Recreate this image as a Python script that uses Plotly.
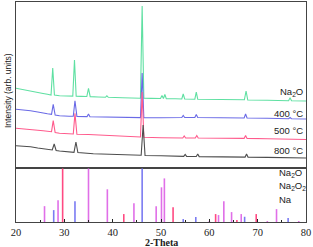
import plotly.graph_objects as go
from plotly.subplots import make_subplots

# ---- data (2-theta, intensity in arbitrary units) ----
na2o_pattern = [(20, 79.7), (21.5, 78.5), (23, 77), (24.5, 75.5), (25.6, 74.5), (26.5, 73.7),
                (27.25, 73), (27.6, 100), (27.95, 73), (29, 72.3), (31, 72), (31.75, 71.9),
                (32.1, 108), (32.45, 71.8), (33.5, 71.6), (34.65, 71.5), (35.0, 79.7), (35.35, 71.4),
                (37, 71), (38.5, 70.7), (38.8, 72.2), (39.1, 70.7), (42, 70.3), (45.75, 69.8),
                (46.1, 162), (46.45, 69.7), (48, 69.6), (49.9, 69.5), (50.2, 72.5), (50.5, 69.5),
                (50.8, 73.5), (51.1, 69.4), (53, 69.2), (54.3, 69), (54.6, 74), (54.9, 69),
                (57.0, 68.8), (57.3, 75.8), (57.6, 68.8), (60, 68.6), (64, 68.3), (67.25, 68.2),
                (67.6, 77), (67.95, 68), (72, 67.7), (76.4, 67.3), (76.7, 70.3), (77.0, 67.2), (80, 67)]

t400_pattern = [(20, 58.7), (21.5, 58.2), (23, 57.2), (24.5, 56), (25.6, 54.8), (26.5, 54.2),
                (27.35, 53.7), (27.7, 63.7), (28.1, 53), (29, 52.2), (31, 51.8), (31.85, 51.7),
                (32.2, 67.3), (32.6, 51.6), (34.7, 51.4), (35.0, 54), (35.3, 51.3), (40, 51),
                (45.75, 50.4), (46.1, 95), (46.45, 50.3), (50, 50.3), (54.3, 50.5), (54.6, 52.5),
                (54.9, 50.5), (57.0, 50.5), (57.3, 53.5), (57.6, 50.5), (62, 50.3), (67.2, 50),
                (67.5, 54), (67.8, 50), (72, 49.7), (76.4, 49.3), (76.7, 50.5), (77, 49.3), (80, 49)]

t500_pattern = [(20, 39.7), (21.5, 39.3), (23, 38.6), (24.5, 37.8), (25.6, 37.3), (26.5, 36.8),
                (27.35, 36.3), (27.7, 47.3), (28.1, 35.5), (29, 34.7), (31, 34.1), (31.85, 34),
                (32.2, 54.7), (32.6, 33.8), (35, 33.5), (40, 32.5), (45.75, 31), (46.1, 76),
                (46.45, 30.8), (50, 30.3), (54.5, 30), (54.8, 32), (55.1, 30), (57.1, 30),
                (57.4, 32.5), (57.7, 30), (62, 29.8), (67.2, 29.6), (67.5, 32.6), (67.8, 29.6),
                (72, 29.3), (80, 28.5)]

t800_pattern = [(20, 22.3), (21.5, 21.9), (23, 21.2), (24.5, 20), (25.6, 19), (26.5, 18.5),
                (27.5, 18), (27.9, 24), (28.3, 17.5), (29, 17), (31, 16), (32.0, 15.7),
                (32.4, 26), (32.8, 15.5), (36, 14.3), (40, 13.7), (45.9, 12.7), (46.3, 43),
                (46.7, 12.5), (50, 12.2), (54.7, 11.6), (55, 13.6), (55.3, 11.6), (57.3, 11.5),
                (57.6, 14), (57.9, 11.4), (62, 11.2), (67.4, 10.9), (67.7, 13.9), (68, 10.9),
                (72, 10.6), (80, 10)]

# reference stick patterns
ref_na2o_pos = [27.8, 32.2, 46.1, 54.6, 57.2, 67.3, 76.3]
ref_na2o_int = [12, 21, 54, 3, 5, 5.3, 4]
ref_na2o2_pos = [25.9, 28.7, 35.0, 38.9, 44.4, 49.0, 50.1, 50.7, 60.0, 61.9, 63.0, 64.6, 66.6, 72.0, 73.9, 78.5]
ref_na2o2_int = [16, 22, 54, 33, 19, 16, 35, 44, 1, 7, 21, 10, 8, 1, 13, 1]
ref_na_pos = [29.65, 42.3, 52.5, 61.3, 65.7, 69.7]
ref_na_int = [54, 8, 15, 8, 2, 8]

curve_names = ["Na<sub>2</sub>O", "400 °C", "500 °C", "800 °C"]
curve_colors = ["#5fe0a2", "#6a6ae6", "#ff5a8c", "#4d4d4d"]
stick_names = ["Na<sub>2</sub>O", "Na<sub>2</sub>O<sub>2</sub>", "Na"]
stick_colors = ["#7b7bf2", "#e06fe8", "#ff4a82"]
x_ticks = [20, 30, 40, 50, 60, 70, 80]

fig = make_subplots(rows=2, cols=1, shared_xaxes=True, vertical_spacing=0,
                    row_heights=[166, 54])

for pat, col in zip([na2o_pattern, t400_pattern, t500_pattern, t800_pattern], curve_colors):
    xs, ys = zip(*pat)
    fig.add_trace(go.Scatter(x=xs, y=ys, mode="lines", line=dict(color=col, width=1.1),
                             showlegend=False, hoverinfo="skip"), row=1, col=1)


def sticks(pos, inten):
    xs, ys = [], []
    for p, h in zip(pos, inten):
        xs += [p, p, None]
        ys += [0, h, None]
    return xs, ys


for (pos, inten), col in zip([(ref_na2o2_pos, ref_na2o2_int), (ref_na2o_pos, ref_na2o_int),
                              (ref_na_pos, ref_na_int)],
                             [stick_colors[1], stick_colors[0], stick_colors[2]]):
    xs, ys = sticks(pos, inten)
    fig.add_trace(go.Scatter(x=xs, y=ys, mode="lines", line=dict(color=col, width=1.6),
                             showlegend=False, hoverinfo="skip"), row=2, col=1)

axis_col = "#444444"
fig.update_xaxes(range=[20, 80], showline=True, linecolor=axis_col, linewidth=1.3, mirror=True,
                 showgrid=False, zeroline=False)
fig.update_xaxes(showticklabels=False, ticks="", row=1, col=1)
fig.update_xaxes(tickvals=x_ticks, ticks="inside", ticklen=3, tickcolor="#222",
                 minor=dict(ticks="inside", dtick=5, tick0=20, ticklen=2, tickcolor="#222"),
                 tickfont=dict(family="Liberation Serif", size=10.5, color="#222"),
                 row=2, col=1)
fig.update_yaxes(showline=True, linecolor=axis_col, linewidth=1.3, mirror=True, showgrid=False,
                 zeroline=False, showticklabels=False, ticks="")
fig.update_yaxes(range=[0, 166], row=1, col=1)
fig.update_yaxes(range=[0, 54.5], row=2, col=1)

# curve labels (top panel)
label_y = [91.7, 113.3, 130, 150]
for name, yp in zip(curve_names, label_y):
    fig.add_annotation(text=name, xref="paper", yref="paper", x=1, xshift=-1,
                       y=(222 - yp) / 220, xanchor="right", yanchor="middle", showarrow=False,
                       font=dict(family="Liberation Sans", size=9.5, color="#222"))

# reference legend (bottom panel)
leg_y = [173, 185.5, 199]
for name, yp in zip(stick_names, leg_y):
    fig.add_annotation(text=name, xref="paper", yref="paper", x=(277 - 16) / 290,
                       y=(222 - yp) / 220, xanchor="left", yanchor="middle", showarrow=False,
                       font=dict(family="Liberation Sans", size=9.5, color="#222"))

fig.add_annotation(text="<b>2-Theta</b>", xref="paper", yref="paper", x=0.5, y=0, yshift=-20,
                   xanchor="center", yanchor="middle", showarrow=False,
                   font=dict(family="Liberation Serif", size=10, color="#222"))
fig.add_annotation(text="Intensity (arb. units)", xref="paper", yref="paper", x=0, xshift=-8,
                   y=(222 - 91) / 220, xanchor="center", yanchor="middle", textangle=-90,
                   showarrow=False, font=dict(family="Liberation Sans", size=8.5, color="#222"))

fig.update_layout(width=313, height=247, margin=dict(l=16, r=7, t=2, b=25),
                  paper_bgcolor="white", plot_bgcolor="white", showlegend=False)

fig.write_html("out.html", config={"displayModeBar": False},
               post_script="document.body.style.margin='0';document.body.style.overflow='hidden';")
